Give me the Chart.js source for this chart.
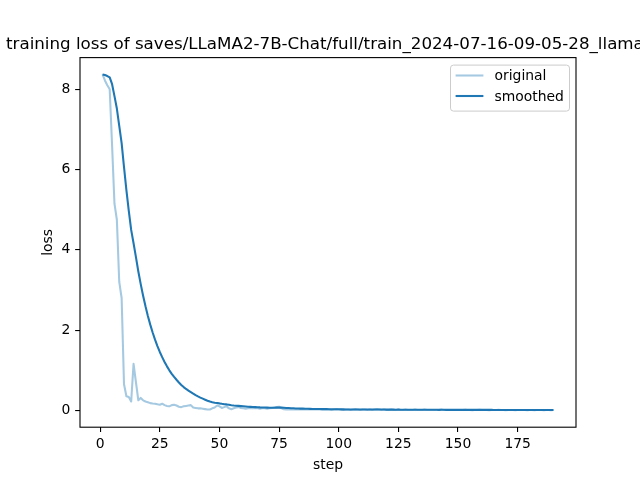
<!DOCTYPE html>
<html>
<head>
<meta charset="utf-8">
<script src="https://cdn.jsdelivr.net/npm/chart.js@4/dist/chart.umd.min.js"></script>
<style>
  html, body { margin: 0; padding: 0; background: #fff; }
  canvas { display: block; }
</style>
</head>
<body>
<canvas id="c" width="640" height="480"></canvas>
<script>
const titleText = 'training loss of saves/LLaMA2-7B-Chat/full/train_2024-07-16-09-05-28_llama'
const xLabel = 'step'
const yLabel = 'loss'
const seriesNames = ['original', 'smoothed']

const steps = [
  1, 2, 3, 4, 5, 6, 7, 8, 9, 10, 11, 12, 13, 14, 15, 16, 17, 18, 19, 20,
  21, 22, 23, 24, 25, 26, 27, 28, 29, 30, 31, 32, 33, 34, 35, 36, 37, 38, 39, 40,
  41, 42, 43, 44, 45, 46, 47, 48, 49, 50, 51, 52, 53, 54, 55, 56, 57, 58, 59, 60,
  61, 62, 63, 64, 65, 66, 67, 68, 69, 70, 71, 72, 73, 74, 75, 76, 77, 78, 79, 80,
  81, 82, 83, 84, 85, 86, 87, 88, 89, 90, 91, 92, 93, 94, 95, 96, 97, 98, 99, 100,
  101, 102, 103, 104, 105, 106, 107, 108, 109, 110, 111, 112, 113, 114, 115, 116, 117, 118, 119, 120,
  121, 122, 123, 124, 125, 126, 127, 128, 129, 130, 131, 132, 133, 134, 135, 136, 137, 138, 139, 140,
  141, 142, 143, 144, 145, 146, 147, 148, 149, 150, 151, 152, 153, 154, 155, 156, 157, 158, 159, 160,
  161, 162, 163, 164, 165, 166, 167, 168, 169, 170, 171, 172, 173, 174, 175, 176, 177, 178, 179, 180,
  181, 182, 183, 184, 185, 186, 187, 188, 189, 190
]

const originalLoss = [
  8.37, 8.22, 8.10, 8.00, 6.60, 5.15, 4.75, 3.20, 2.80, 0.65,
  0.35, 0.33, 0.22, 1.16, 0.70, 0.25, 0.31, 0.25, 0.22, 0.20,
  0.18, 0.17, 0.165, 0.15, 0.14, 0.165, 0.13, 0.11, 0.10, 0.13,
  0.14, 0.12, 0.09, 0.08, 0.10, 0.11, 0.12, 0.13, 0.07, 0.06,
  0.05, 0.05, 0.04, 0.03, 0.02, 0.02, 0.05, 0.07, 0.12, 0.10,
  0.06, 0.08, 0.10, 0.05, 0.03, 0.05, 0.07, 0.08, 0.06, 0.05,
  0.04, 0.05, 0.06, 0.05, 0.06, 0.05, 0.04, 0.06, 0.05, 0.04,
  0.05, 0.06, 0.07, 0.08, 0.09, 0.05, 0.03, 0.02, 0.03, 0.02,
  0.03, 0.02, 0.03, 0.02, 0.03, 0.02, 0.02, 0.03, 0.02, 0.02,
  0.03, 0.02, 0.02, 0.03, 0.02, 0.02, 0.01, 0.02, 0.03, 0.02,
  0.02, 0.01, 0.02, 0.02, 0.01, 0.02, 0.03, 0.02, 0.01, 0.02,
  0.02, 0.01, 0.02, 0.01, 0.02, 0.03, 0.02, 0.01, 0.02, 0.01,
  0.01, 0.02, 0.01, 0.01, 0.02, 0.01, 0.01, 0.02, 0.01, 0.01,
  0.01, 0.02, 0.01, 0.01, 0.01, 0.02, 0.01, 0.01, 0.01, 0.01,
  0.01, 0.01, 0.02, 0.01, 0.01, 0.01, 0.01, 0.01, 0.01, 0.01,
  0.01, 0.01, 0.015, 0.01, 0.01, 0.005, 0.01, 0.01, 0.015, 0.01,
  0.01, 0.01, 0.005, 0.01, 0.01, 0.01, 0.015, 0.01, 0.01, 0.005,
  0.01, 0.01, 0.01, 0.005, 0.01, 0.01, 0.01, 0.01, 0.005, 0.01,
  0.01, 0.005, 0.01, 0.01, 0.01, 0.005, 0.01, 0.01, 0.005, 0.01
]

const smoothedLoss = [
  8.370, 8.355, 8.330, 8.297, 8.127, 7.829, 7.521, 7.089, 6.660, 6.059,
  5.488, 4.973, 4.497, 4.164, 3.817, 3.460, 3.145, 2.856, 2.592, 2.353,
  2.136, 1.939, 1.762, 1.601, 1.455, 1.326, 1.206, 1.096, 0.997, 0.910,
  0.833, 0.762, 0.695, 0.633, 0.580, 0.533, 0.492, 0.455, 0.417, 0.381,
  0.348, 0.318, 0.291, 0.265, 0.240, 0.218, 0.201, 0.188, 0.181, 0.173,
  0.162, 0.154, 0.148, 0.139, 0.128, 0.120, 0.115, 0.111, 0.106, 0.101,
  0.095, 0.090, 0.087, 0.083, 0.081, 0.078, 0.074, 0.073, 0.071, 0.068,
  0.066, 0.065, 0.066, 0.067, 0.069, 0.068, 0.064, 0.059, 0.057, 0.053,
  0.051, 0.048, 0.046, 0.043, 0.042, 0.040, 0.038, 0.037, 0.035, 0.034,
  0.033, 0.032, 0.031, 0.031, 0.030, 0.029, 0.027, 0.026, 0.026, 0.026,
  0.025, 0.024, 0.023, 0.023, 0.022, 0.022, 0.022, 0.022, 0.021, 0.021,
  0.021, 0.020, 0.020, 0.019, 0.019, 0.020, 0.020, 0.019, 0.019, 0.018,
  0.017, 0.018, 0.017, 0.016, 0.017, 0.016, 0.015, 0.016, 0.015, 0.015,
  0.014, 0.015, 0.014, 0.014, 0.014, 0.014, 0.014, 0.013, 0.013, 0.013,
  0.013, 0.012, 0.013, 0.013, 0.012, 0.012, 0.012, 0.012, 0.012, 0.011,
  0.011, 0.011, 0.011, 0.011, 0.011, 0.011, 0.011, 0.011, 0.011, 0.011,
  0.011, 0.011, 0.011, 0.011, 0.010, 0.010, 0.010, 0.010, 0.010, 0.010,
  0.010, 0.010, 0.010, 0.010, 0.010, 0.010, 0.010, 0.010, 0.010, 0.010,
  0.010, 0.010, 0.010, 0.010, 0.010, 0.010, 0.010, 0.010, 0.010, 0.010
]

const xTicks = [0, 25, 50, 75, 100, 125, 150, 175]
const yTicks = [0, 2, 4, 6, 8]

const FONT = 'DejaVu Sans, sans-serif'
const BLUE = '#1f77b4'
const BLUE_LIGHT = 'rgba(31,119,180,0.4)'

// matplotlib-style frame, title, axis labels and legend
const decorPlugin = {
  id: 'mplDecor',
  afterDraw(chart) {
    const ctx = chart.ctx
    const { left, right, top, bottom } = chart.chartArea
    ctx.save()

    // spines
    ctx.strokeStyle = '#000'
    ctx.lineWidth = 1.1
    ctx.strokeRect(left, top, right - left, bottom - top)

    // title (runs off the right edge in the original)
    ctx.fillStyle = '#000'
    ctx.font = '16.7px ' + FONT
    ctx.textAlign = 'left'
    ctx.textBaseline = 'alphabetic'
    ctx.fillText(titleText, 6, 49)

    // axis labels
    ctx.font = '13.9px ' + FONT
    ctx.textAlign = 'center'
    ctx.textBaseline = 'top'
    ctx.fillText(xLabel, (left + right) / 2, 458)
    ctx.save()
    ctx.translate(48, (top + bottom) / 2)
    ctx.rotate(-Math.PI / 2)
    ctx.textBaseline = 'middle'
    ctx.fillText(yLabel, 0, 0)
    ctx.restore()

    // legend
    const bx = 450, by = 64.6, bw = 119, bh = 46
    ctx.beginPath()
    ctx.roundRect(bx + 0.5, by + 0.5, bw, bh, 3)
    ctx.fillStyle = 'rgba(255,255,255,0.8)'
    ctx.fill()
    ctx.strokeStyle = '#cccccc'
    ctx.lineWidth = 1
    ctx.stroke()

    const rows = [75.5, 96]
    const colors = [BLUE_LIGHT, BLUE]
    rows.forEach((ry, i) => {
      ctx.beginPath()
      ctx.strokeStyle = colors[i]
      ctx.lineWidth = 2.08
      ctx.moveTo(455.6, ry)
      ctx.lineTo(483.4, ry)
      ctx.stroke()
      ctx.fillStyle = '#000'
      ctx.textAlign = 'left'
      ctx.textBaseline = 'middle'
      ctx.fillText(seriesNames[i], 494.5, ry + 1)
    })

    ctx.restore()
  }
}

new Chart(document.getElementById('c'), {
  type: 'line',
  plugins: [decorPlugin],
  data: {
    labels: steps,
    datasets: [
      {
        label: seriesNames[0],
        data: originalLoss,
        borderColor: BLUE_LIGHT,
        borderWidth: 2.08,
        pointRadius: 0,
        tension: 0,
        borderJoinStyle: 'round',
        fill: false,
      },
      {
        label: seriesNames[1],
        data: smoothedLoss,
        borderColor: BLUE,
        borderWidth: 2.08,
        pointRadius: 0,
        tension: 0,
        borderJoinStyle: 'round',
        fill: false,
      }
    ]
  },
  options: {
    responsive: false,
    devicePixelRatio: 1,
    animation: false,
    layout: { padding: { left: 0, top: 57.6, right: 64, bottom: 0 } },
    scales: {
      x: {
        type: 'linear',
        min: -8.45,
        max: 199.45,
        afterFit(scale) { scale.height = 52.8 },
        afterBuildTicks(scale) { scale.ticks = xTicks.map(v => ({ value: v })) },
        border: { display: false },
        grid: { display: true, drawOnChartArea: false, drawTicks: true, tickLength: 4.86, color: '#000', lineWidth: 1.1 },
        ticks: { color: '#000', font: { family: FONT, size: 13.9 }, padding: 4, maxRotation: 0, autoSkip: false },
      },
      y: {
        type: 'linear',
        min: -0.42,
        max: 8.79,
        afterFit(scale) { scale.width = 80 },
        afterBuildTicks(scale) { scale.ticks = yTicks.map(v => ({ value: v })) },
        border: { display: false },
        grid: { display: true, drawOnChartArea: false, drawTicks: true, tickLength: 4.86, color: '#000', lineWidth: 1.1 },
        ticks: { color: '#000', font: { family: FONT, size: 13.9 }, padding: 4.86, autoSkip: false },
      }
    },
    plugins: {
      legend: { display: false },
      title: { display: false },
      tooltip: { enabled: false }
    }
  }
})
</script>
</body>
</html>
